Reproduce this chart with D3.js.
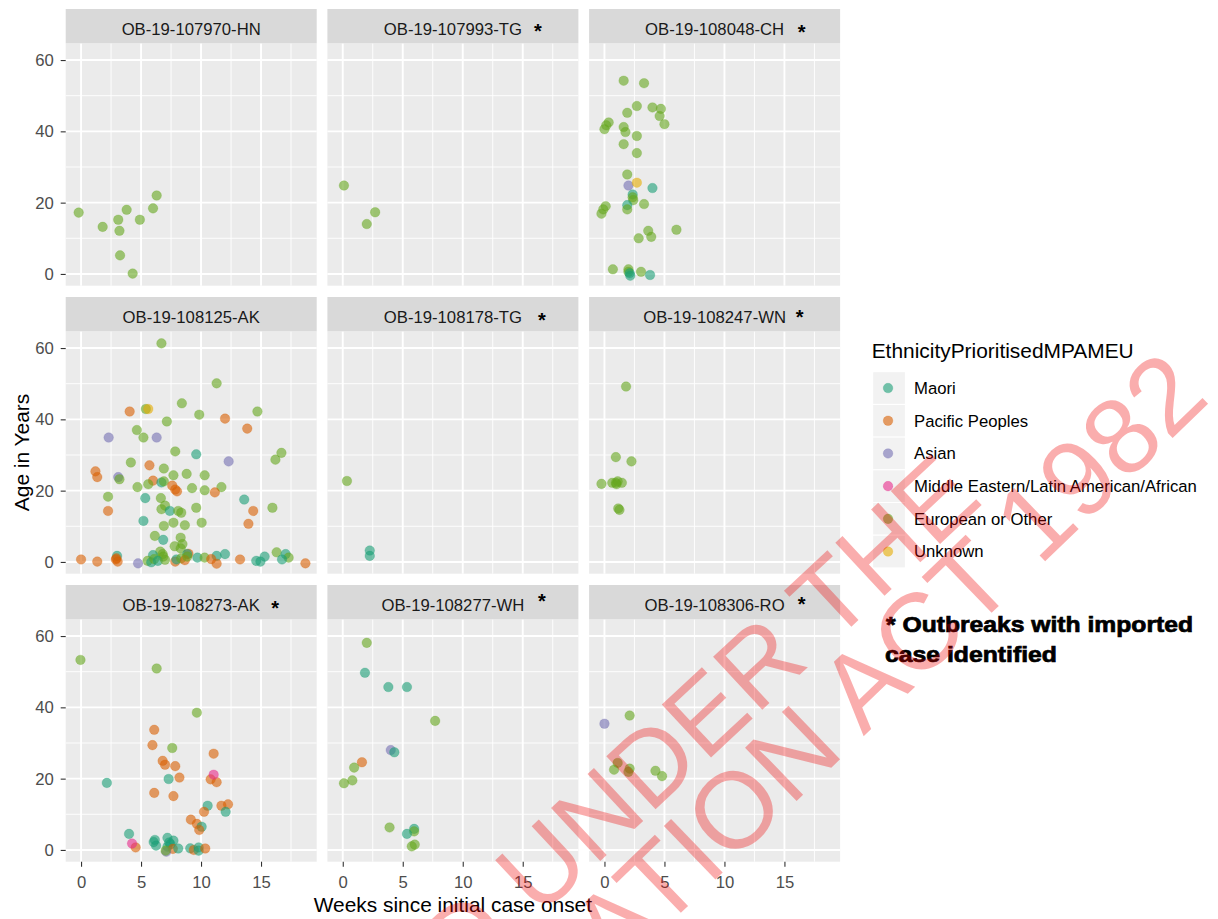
<!DOCTYPE html>
<html><head><meta charset="utf-8">
<script src="https://cdn.jsdelivr.net/npm/d3@7"></script>
<style>body{margin:0;background:#fff} svg{display:block}</style>
</head><body><svg id="chart" width="1218" height="919"></svg>
<script>
// ---------------- DATA ----------------
const outbreakNames = ["OB-19-107970-HN","OB-19-107993-TG","OB-19-108048-CH",
                       "OB-19-108125-AK","OB-19-108178-TG","OB-19-108247-WN",
                       "OB-19-108273-AK","OB-19-108277-WH","OB-19-108306-RO"];
const importedCase = [false,true,true,false,true,true,true,true,true];
const ethnicityCodes  = ["M","P","A","ME","E","U"];
const ethnicityLabels = ["Maori","Pacific Peoples","Asian","Middle Eastern/Latin American/African","European or Other","Unknown"];
const xTicks = [0,5,10,15];
const yTicks = [0,20,40,60];
const xTitle = "Weeks since initial case onset";
const yTitle = "Age in Years";
const legendTitle = "EthnicityPrioritisedMPAMEU";
const noteLines = ["* Outbreaks with imported","case identified"];
const watermarkLines = ["RELEASED UNDER THE","OFFICIAL INFORMATION ACT 1982"];

// [weeks since initial onset, age in years, ethnicity code]
const ob107970HN = [[-0.2,17.2,"E"],[1.8,13.2,"E"],[3.1,15.2,"E"],[3.2,12.1,"E"],[3.8,18.0,"E"],
  [4.9,15.2,"E"],[6.0,18.4,"E"],[6.3,22.0,"E"],[3.25,5.2,"E"],[4.3,0.1,"E"]];
const ob107993TG = [[0.1,24.8,"E"],[2.7,17.3,"E"],[2.0,14.0,"E"]];
const ob108048CH = [[1.6,54.2,"E"],[3.3,53.5,"E"],[2.7,47.1,"E"],[4.0,46.7,"E"],[4.7,46.3,"E"],
  [1.9,45.2,"E"],[4.6,44.3,"E"],[5.0,42.0,"E"],[0.35,42.5,"E"],[0.15,41.7,"E"],[0.0,40.6,"E"],
  [1.6,41.2,"E"],[1.75,39.8,"E"],[2.7,38.7,"E"],[1.6,36.4,"E"],[2.7,33.9,"E"],[1.9,27.9,"E"],
  [2.0,24.8,"A"],[2.7,25.6,"U"],[4.0,24.1,"M"],[2.35,22.3,"M"],[2.35,21.5,"E"],[2.4,20.7,"E"],
  [1.9,19.3,"M"],[1.9,18.1,"E"],[3.3,19.6,"E"],[0.1,19.0,"E"],[-0.1,18.1,"E"],[-0.25,16.9,"E"],
  [6.0,12.4,"E"],[3.65,12.1,"E"],[3.9,10.4,"E"],[2.85,10.0,"E"],[0.7,1.3,"E"],[2.0,1.3,"E"],
  [3.05,0.6,"E"],[2.0,0.6,"E"],[2.1,0.2,"M"],[2.15,-0.5,"M"],[3.8,-0.3,"M"]];
const ob108125AK = [[6.7,61.3,"E"],[11.3,50.1,"E"],[8.4,44.5,"E"],[4.05,42.2,"P"],[5.4,42.9,"E"],
  [5.6,42.9,"U"],[9.85,41.3,"E"],[14.7,42.2,"E"],[12.0,40.2,"P"],[7.15,39.4,"E"],[13.85,37.4,"P"],
  [4.65,37.0,"E"],[2.3,34.9,"A"],[5.2,34.9,"E"],[6.3,34.9,"A"],[7.85,31.0,"E"],[9.6,30.2,"M"],
  [16.7,30.6,"E"],[16.2,28.7,"E"],[12.3,28.2,"A"],[4.15,27.9,"E"],[5.7,27.1,"P"],[6.9,26.2,"E"],
  [1.2,25.4,"P"],[1.35,23.8,"P"],[3.1,23.8,"A"],[3.2,23.2,"E"],[7.7,24.3,"E"],[8.8,24.7,"E"],
  [10.3,24.3,"E"],[6.0,22.8,"P"],[6.7,22.3,"M"],[6.9,22.6,"E"],[5.6,21.8,"E"],[4.7,21.0,"E"],
  [7.6,21.4,"P"],[7.85,20.3,"P"],[8.0,19.8,"P"],[9.25,20.7,"E"],[10.3,20.1,"E"],[11.7,21.0,"E"],
  [11.15,19.5,"P"],[2.25,18.3,"E"],[5.35,17.9,"M"],[6.65,17.9,"E"],[13.6,17.5,"M"],[7.0,15.8,"E"],
  [9.6,15.2,"E"],[15.95,15.2,"E"],[6.7,14.8,"E"],[2.25,14.3,"P"],[7.4,14.3,"M"],[8.1,14.3,"E"],
  [8.35,13.8,"E"],[14.35,14.3,"P"],[5.2,11.5,"M"],[13.95,10.7,"P"],[7.7,11.0,"E"],[10.05,11.0,"E"],
  [6.9,10.1,"E"],[8.65,10.3,"E"],[6.15,7.3,"E"],[8.3,6.8,"E"],[6.85,6.2,"M"],[7.8,4.4,"E"],
  [8.45,5.0,"E"],[8.3,3.8,"E"],[6.6,2.9,"E"],[16.3,2.7,"E"],[8.95,2.3,"P"],[8.85,2.2,"M"],
  [3.0,1.7,"M"],[2.95,1.0,"P"],[6.8,2.2,"E"],[6.85,1.5,"E"],[6.0,1.9,"M"],[9.7,1.2,"M"],
  [10.3,1.2,"E"],[11.3,1.7,"M"],[12.0,2.2,"M"],[15.3,1.5,"M"],[17.05,2.2,"M"],[17.3,1.2,"E"],
  [16.75,0.7,"M"],[0.0,0.7,"P"],[1.35,0.1,"P"],[3.05,0.1,"P"],[2.9,0.7,"P"],[4.75,-0.4,"A"],
  [5.55,0.3,"E"],[5.85,-0.1,"M"],[6.1,0.8,"E"],[6.4,0.3,"M"],[7.0,0.6,"E"],[7.85,0.1,"P"],
  [7.95,0.7,"M"],[8.35,1.0,"E"],[8.65,0.5,"P"],[8.85,1.5,"E"],[10.85,0.8,"P"],[11.3,-0.5,"P"],
  [13.25,0.7,"P"],[14.6,0.3,"M"],[14.95,0.1,"M"],[18.7,-0.4,"P"]];
const ob108178TG = [[0.35,22.7,"E"],[2.25,3.2,"M"],[2.25,1.7,"M"]];
const ob108247WN = [[1.8,49.2,"E"],[0.95,29.4,"E"],[2.25,28.2,"E"],[-0.25,21.9,"E"],[0.65,22.2,"E"],
  [0.95,22.2,"E"],[1.1,22.6,"E"],[1.45,22.2,"E"],[1.0,21.8,"E"],[1.15,15.0,"E"],[1.25,14.6,"E"]];
const ob108273AK = [[-0.05,53.3,"E"],[6.3,50.9,"E"],[9.65,38.5,"E"],[6.1,33.7,"P"],[5.95,29.4,"P"],
  [7.6,28.6,"E"],[11.05,27.0,"P"],[6.8,25.0,"P"],[7.0,23.9,"P"],[7.85,23.5,"P"],[8.2,20.3,"P"],
  [7.3,19.9,"M"],[10.8,19.8,"P"],[11.3,19.0,"P"],[11.05,21.1,"ME"],[2.15,18.8,"M"],[6.1,16.0,"P"],
  [7.7,15.1,"P"],[10.55,12.4,"M"],[11.7,12.4,"P"],[12.25,12.8,"P"],[12.05,10.7,"M"],[10.25,10.7,"P"],
  [9.15,8.5,"P"],[9.65,7.3,"P"],[10.05,6.5,"M"],[9.85,5.6,"P"],[4.0,4.5,"M"],[4.55,0.7,"P"],
  [4.25,1.8,"ME"],[6.15,2.8,"M"],[6.25,1.2,"M"],[6.05,2.2,"M"],[7.2,3.4,"M"],[7.35,2.1,"M"],
  [7.7,2.6,"M"],[7.2,0.9,"M"],[7.45,1.6,"M"],[7.65,0.3,"P"],[7.1,-0.5,"A"],[7.05,-0.2,"E"],
  [8.1,0.4,"M"],[9.1,0.45,"M"],[9.4,0.0,"P"],[9.8,0.7,"M"],[9.8,-0.2,"M"],[10.35,0.4,"P"]];
const ob108277WH = [[2.0,58.1,"E"],[1.85,49.7,"M"],[3.8,45.7,"M"],[5.35,45.7,"M"],[7.7,36.2,"E"],
  [4.0,28.0,"A"],[4.3,27.4,"M"],[1.6,24.6,"P"],[0.95,23.1,"E"],[0.8,19.5,"E"],[0.1,18.7,"E"],
  [3.9,6.3,"E"],[5.95,5.9,"M"],[5.95,5.2,"E"],[5.35,4.5,"M"],[5.75,1.0,"E"],[6.0,1.5,"E"]];
const ob108306RO = [[0.0,35.4,"A"],[2.1,37.7,"E"],[1.1,24.4,"E"],[0.8,22.5,"E"],[2.1,22.8,"E"],
  [2.0,21.9,"E"],[4.25,22.2,"E"],[4.8,20.7,"E"]];

const casesByOutbreak = [ob107970HN,ob107993TG,ob108048CH,ob108125AK,ob108178TG,
                         ob108247WN,ob108273AK,ob108277WH,ob108306RO];

// ---------------- STYLE / LAYOUT ----------------
const ethnicityColors = ["#1B9E77","#D95F02","#7570B3","#E7298A","#66A61E","#E6AB02"];
const FONT = "'Liberation Sans', Arial, Helvetica, sans-serif";
const left0 = 65.7, panelW = 251, gapX = 10.7;
const top0 = 9, stripH = 34.3, panelH = 242.4, gapY = 11.3;
const starOffsets = [null,[85,17],[87,18.3],null,[89,18],[85,15.7],[84,18.3],[89,11],[87,14.3]];
const R = 4.8;

const svg = d3.select("#chart");
svg.append("rect").attr("width",1218).attr("height",919).attr("fill","#fff");

const x = d3.scaleLinear().domain([-1.28, 19.64]).range([0, panelW]);
const y = d3.scaleLinear().domain([-3.3, 64.7]).range([panelH, 0]);
const color = d3.scaleOrdinal().domain(ethnicityCodes).range(ethnicityColors);

function styleAxis(a){
  a.select(".domain").remove();
  a.selectAll("line").attr("stroke","#333333").attr("stroke-width",1.1);
  a.selectAll("text").attr("fill","#4D4D4D").attr("font-size","16.7px").attr("font-family",FONT);
}

outbreakNames.forEach((name,i)=>{
  const col = i % 3, row = Math.floor(i/3);
  const px = left0 + col*(panelW+gapX);
  const sy = top0 + row*(stripH+panelH+gapY);
  const py = sy + stripH;
  const g = svg.append("g").attr("transform",`translate(${px},${py})`);
  g.append("rect").attr("width",panelW).attr("height",panelH).attr("fill","#EBEBEB");
  const xMinor = xTicks.map(t=>t+2.5).filter(t=>t<x.domain()[1]);
  const yMinor = yTicks.map(t=>t+10).filter(t=>t<y.domain()[1]);
  g.selectAll(".xmin").data(xMinor).join("line").attr("x1",d=>x(d)).attr("x2",d=>x(d))
    .attr("y1",0).attr("y2",panelH).attr("stroke","#fff").attr("stroke-width",0.9);
  g.selectAll(".ymin").data(yMinor).join("line").attr("y1",d=>y(d)).attr("y2",d=>y(d))
    .attr("x1",0).attr("x2",panelW).attr("stroke","#fff").attr("stroke-width",0.9);
  g.selectAll(".xmaj").data(xTicks).join("line").attr("x1",d=>x(d)).attr("x2",d=>x(d))
    .attr("y1",0).attr("y2",panelH).attr("stroke","#fff").attr("stroke-width",1.9);
  g.selectAll(".ymaj").data(yTicks).join("line").attr("y1",d=>y(d)).attr("y2",d=>y(d))
    .attr("x1",0).attr("x2",panelW).attr("stroke","#fff").attr("stroke-width",1.9);

  g.append("g").selectAll("circle").data(casesByOutbreak[i]).join("circle")
    .attr("cx",d=>x(d[0])).attr("cy",d=>y(d[1])).attr("r",R)
    .attr("fill",d=>color(d[2])).attr("fill-opacity",0.6)
    .attr("stroke",d=>color(d[2])).attr("stroke-opacity",0.3).attr("stroke-width",0.8);

  svg.append("rect").attr("x",px).attr("y",sy).attr("width",panelW).attr("height",stripH).attr("fill","#D9D9D9");
  svg.append("text").attr("x",px+panelW/2).attr("y",sy+26).attr("text-anchor","middle")
    .attr("font-family",FONT).attr("font-size","16.7px").attr("fill","#1A1A1A").text(name);
  if (importedCase[i]) {
    const o = starOffsets[i];
    svg.append("text").attr("x",px+panelW/2+o[0]).attr("y",sy+o[1]+11.5).attr("text-anchor","middle")
      .attr("font-family",FONT).attr("font-weight","bold").attr("font-size","20px").attr("fill","#000").text("*");
  }
  if (col === 0) {
    styleAxis(g.append("g").call(d3.axisLeft(y).tickValues(yTicks).tickSize(5).tickPadding(7)));
  }
  if (row === 2) {
    styleAxis(g.append("g").attr("transform",`translate(0,${panelH})`)
      .call(d3.axisBottom(x).tickValues(xTicks).tickSize(5).tickPadding(9)));
  }
});

// axis titles
svg.append("text").attr("x",452.9).attr("y",912).attr("text-anchor","middle")
  .attr("font-family",FONT).attr("font-size","20.9px").attr("fill","#000").text(xTitle);
svg.append("text").attr("transform","translate(29,452.5) rotate(-90)").attr("text-anchor","middle")
  .attr("font-family",FONT).attr("font-size","20.9px").attr("fill","#000").text(yTitle);

// legend
const lg = svg.append("g");
lg.append("text").attr("x",871.7).attr("y",358).attr("font-family",FONT).attr("font-size","20.9px")
  .attr("fill","#000").text(legendTitle);
const keyS = 32.7, keyX = 872.7, keyY = 371.7;
const items = lg.selectAll(".item").data(ethnicityLabels).join("g")
  .attr("transform",(d,i)=>`translate(${keyX},${keyY+i*keyS})`);
items.append("rect").attr("width",keyS).attr("height",keyS).attr("fill","#F2F2F2").attr("stroke","#fff").attr("stroke-width",1);
items.append("circle").attr("cx",keyS/2-1).attr("cy",keyS/2).attr("r",R)
  .attr("fill",(d,i)=>color(ethnicityCodes[i])).attr("fill-opacity",0.6)
  .attr("stroke",(d,i)=>color(ethnicityCodes[i])).attr("stroke-opacity",0.3).attr("stroke-width",0.8);
items.append("text").attr("x",914-keyX).attr("y",keyS/2).attr("dy","0.35em")
  .attr("font-family",FONT).attr("font-size","16.7px").attr("fill","#000").text(d=>d);

// note
svg.append("text").attr("x",886).attr("y",632).attr("font-family",FONT).attr("font-weight","bold")
  .attr("font-size","21.5px").attr("stroke","#000").attr("stroke-width",0.7).attr("fill","#000")
  .attr("textLength",307).attr("lengthAdjust","spacingAndGlyphs").text(noteLines[0]);
svg.append("text").attr("x",885).attr("y",662).attr("font-family",FONT).attr("font-weight","bold")
  .attr("font-size","21.5px").attr("stroke","#000").attr("stroke-width",0.7).attr("fill","#000")
  .attr("textLength",172).attr("lengthAdjust","spacingAndGlyphs").text(noteLines[1]);

// watermark (overlay, cut by the picture edge as in the source)
const wm = svg.append("g").attr("pointer-events","none");
wm.append("text").attr("transform","translate(985,502) rotate(-43)").attr("text-anchor","end")
  .attr("font-family",FONT).attr("font-size","105px").attr("fill","rgba(240,0,0,0.32)").text(watermarkLines[0]);
wm.append("text").attr("transform","translate(1212,400) rotate(-44)").attr("text-anchor","end")
  .attr("font-family",FONT).attr("font-size","108px").attr("fill","rgba(240,0,0,0.32)").text(watermarkLines[1]);
</script></body></html>
